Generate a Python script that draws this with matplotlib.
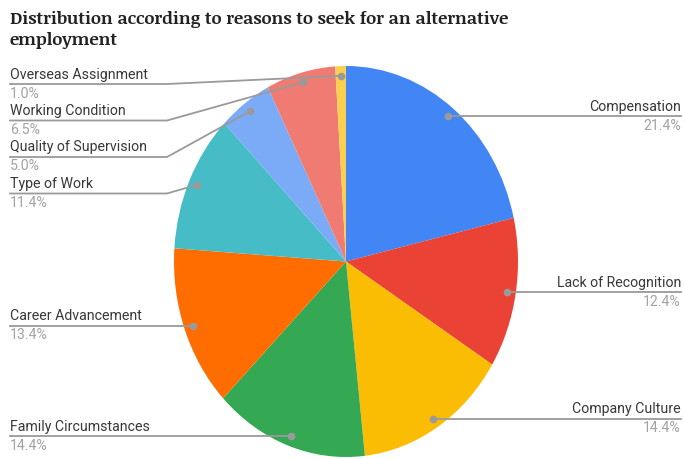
import matplotlib.pyplot as plt
import numpy as np
from matplotlib.lines import Line2D

# reasons, clockwise from 12 o'clock
reasons = ['Compensation', 'Lack of Recognition', 'Company Culture',
           'Family Circumstances', 'Career Advancement', 'Type of Work',
           'Quality of Supervision', 'Working Condition', 'Overseas Assignment']
shares = [21.4, 12.4, 14.4, 14.4, 13.4, 11.4, 5.0, 6.5, 1.0]
colors = ['#4285F4', '#EA4335', '#FBBC04', '#34A853', '#FF6D01',
          '#46BDC6', '#7BAAF7', '#F07B72', '#FCD04F']
title_lines = ['Distribution according to reasons to seek for an alternative',
               'employment']

W, H = 684, 459
fig = plt.figure(figsize=(W / 100, H / 100), dpi=100)
plt.rcParams['font.family'] = ['Roboto', 'DejaVu Sans']


def px(x, y):
    # pixel position measured from the top-left -> figure fraction
    return x / W, 1 - y / H


# pie area (slightly taller than wide)
ax = fig.add_axes([174 / W, 1 - 457 / H, 344 / W, 391 / H])
ax.pie(shares, colors=colors, startangle=90, counterclock=False,
       wedgeprops=dict(linewidth=0))
ax.set_aspect('auto')
ax.set_xlim(-1, 1)
ax.set_ylim(-1, 1)
ax.axis('off')

# dot positions on each wedge
total = sum(shares)
cum = np.cumsum([0] + shares[:-1])
mid = 90 - 360 * (cum + np.array(shares) / 2) / total
dots_data = np.column_stack([0.95 * np.cos(np.radians(mid)),
                             0.95 * np.sin(np.radians(mid))])
dots_disp = ax.transData.transform(dots_data)
dots_px = np.column_stack([dots_disp[:, 0], H - dots_disp[:, 1]])

LINE_C = '#9a9a9a'
NAME_C = '#383838'
VAL_C = '#a3a3a3'
GAP = 36.5

# labels laid out top-down on each side so they don't collide
right_idx = [i for i in range(len(reasons)) if dots_px[i, 0] >= 346]
left_idx = [i for i in range(len(reasons)) if dots_px[i, 0] < 346]
label_y = {}
for side in (right_idx, left_idx):
    prev = 84 - GAP
    for i in sorted(side, key=lambda k: dots_px[k, 1]):
        label_y[i] = max(dots_px[i, 1], prev + GAP, 84)
        prev = label_y[i]

for i, name in enumerate(reasons):
    dx, dy = dots_px[i]
    ly = label_y[i]
    if i in right_idx:
        xs = [dx, 681]
        ys = [dy, ly]
        tx, ha = 681, 'right'
    else:
        if abs(ly - dy) > 0.5:
            xs = [dx, 167, 10]
            ys = [dy, ly, ly]
        else:
            xs = [dx, 10]
            ys = [dy, ly]
        tx, ha = 10, 'left'
    fx = [x / W for x in xs]
    fy = [1 - y / H for y in ys]
    fig.add_artist(Line2D(fx, fy, color=LINE_C, lw=1.3,
                          transform=fig.transFigure))
    fig.add_artist(Line2D([fx[0]], [fy[0]], marker='o', markersize=4.5,
                          color=LINE_C, transform=fig.transFigure))
    fig.text(*px(tx, ly - 2.5), name, ha=ha, va='bottom',
             fontsize=10.2, color=NAME_C)
    fig.text(*px(tx, ly + 2.5), f'{shares[i]:.1f}%', ha=ha, va='top',
             fontsize=10.2, color=VAL_C)

# two-line title
for line, base in zip(title_lines, [24, 45]):
    fig.text(*px(10, base), line, ha='left', va='baseline',
             fontsize=12.6, fontweight='bold',
             family=['Noticia Text', 'DejaVu Serif'], color='#222222')

fig.savefig('out.png', dpi=100, facecolor='white')
